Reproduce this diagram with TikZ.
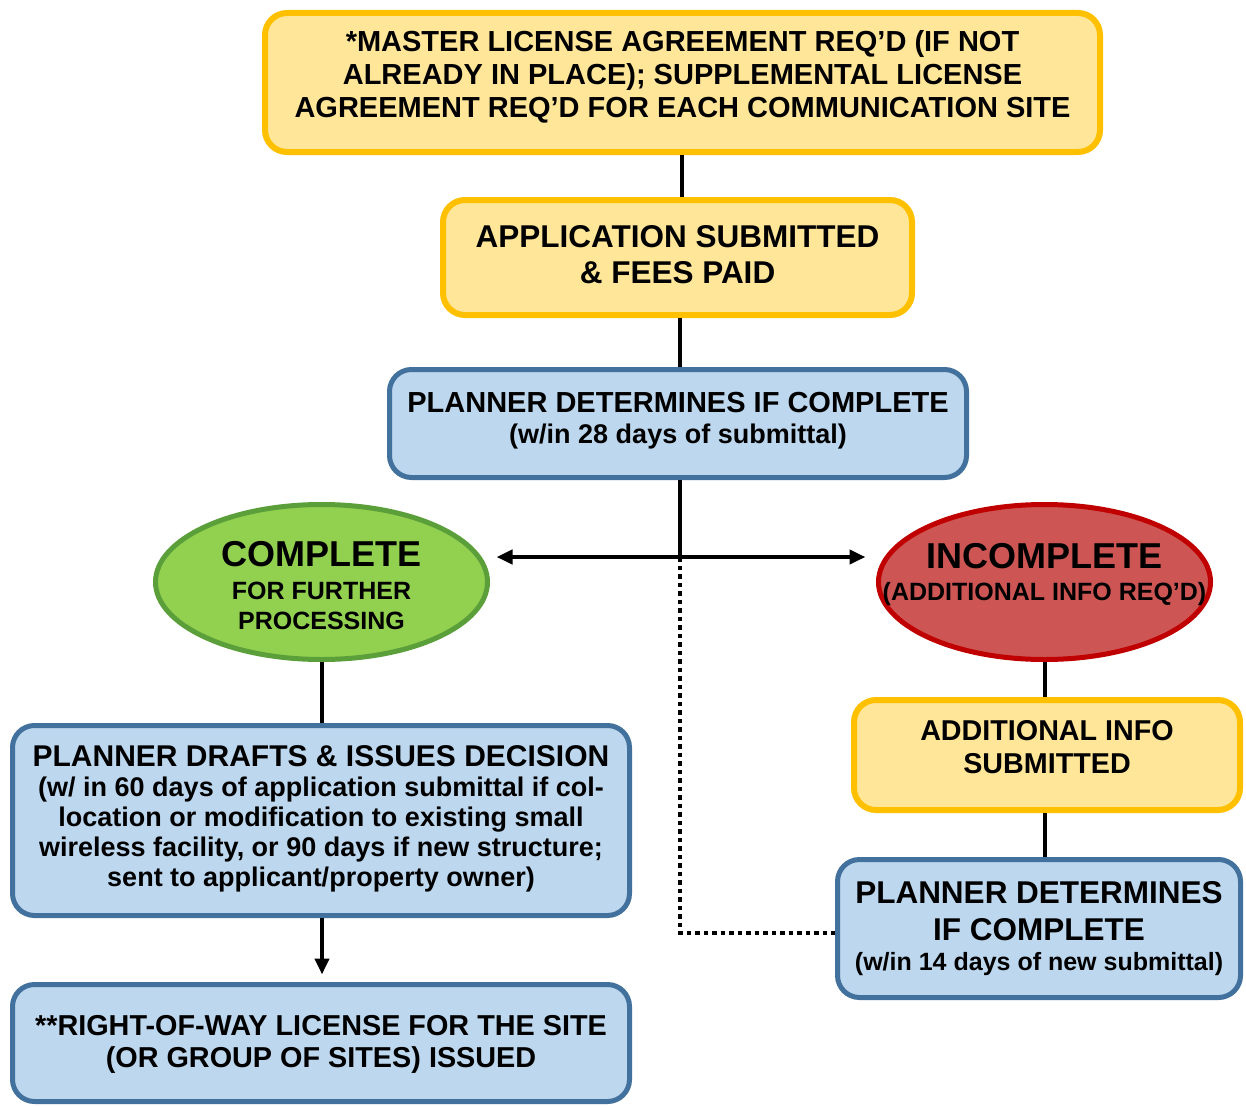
\documentclass[tikz,border=0pt]{standalone}
\usepackage{fontspec}
\setmainfont{Liberation Sans}
\usetikzlibrary{arrows.meta,shapes.geometric}
\definecolor{ylwfill}{HTML}{FFE699}
\definecolor{ylwline}{HTML}{FFC000}
\definecolor{bluefill}{HTML}{BDD7EE}
\definecolor{blueline}{HTML}{41719C}
\definecolor{grnfill}{HTML}{92D050}
\definecolor{grnline}{HTML}{5B9F3A}
\definecolor{redfill}{HTML}{CD5654}
\definecolor{redline}{HTML}{C00000}
\newcommand\fsz[2]{\fontsize{#1}{#2}\selectfont}
\newcommand\btxt[2]{\makebox[0pt]{\raisebox{#1}[0pt][0pt]{\begin{tabular}[t]{@{}c@{}}#2\end{tabular}}}}
\tikzset{
  ybox/.style={draw=ylwline, fill=ylwfill, line width=6pt, rounded corners=22pt, inner sep=0pt, font=\bfseries},
  bbox/.style={draw=blueline, fill=bluefill, line width=5pt, rounded corners=22pt, inner sep=0pt, font=\bfseries},
  gell/.style={ellipse, draw=grnline, fill=grnfill, line width=5pt, inner sep=0pt, font=\bfseries},
  rell/.style={ellipse, draw=redline, fill=redfill, line width=5pt, inner sep=0pt, font=\bfseries},
  conn/.style={line width=4pt, draw=black},
  arr/.style={conn, -{Triangle[length=16pt,width=14pt]}},
  dotline/.style={line width=4pt, draw=black, dash pattern=on 4.5pt off 4pt}
}
\begin{document}
\begin{tikzpicture}[x=1pt,y=-1pt]
\useasboundingbox (0,0) rectangle (1246,1105);
\node[ybox, minimum width=835pt, minimum height=139pt] (m1) at (682.5,82.5)
  {\fsz{29}{33}\btxt{30.5pt}{*MASTER LICENSE AGREEMENT REQ’D (IF NOT\\ALREADY IN PLACE); SUPPLEMENTAL LICENSE\\AGREEMENT REQ’D FOR EACH COMMUNICATION SITE}};
\node[ybox, minimum width=469pt, minimum height=115pt] (m2) at (677.5,257.5)
  {\fsz{31.5}{36}\btxt{10.5pt}{APPLICATION SUBMITTED\\\& FEES PAID}};
\node[bbox, minimum width=577pt, minimum height=108pt] (m3) at (678,423.5)
  {\fsz{29}{31}\btxt{11.5pt}{PLANNER DETERMINES IF COMPLETE\\\fsz{27}{31}(w/in 28 days of submittal)}};
\node[gell, minimum width=332pt, minimum height=155pt] (g) at (321.5,582)
  {\fsz{36}{33}\btxt{16pt}{COMPLETE\\\fsz{25}{30}FOR FURTHER\\[-3pt]\fsz{25}{30}PROCESSING}};
\node[rell, minimum width=332pt, minimum height=155pt] (r) at (1044.5,582)
  {\fsz{36}{32}\btxt{14pt}{INCOMPLETE\\\fsz{25}{30}(ADDITIONAL INFO REQ’D)}};
\node[bbox, minimum width=617pt, minimum height=190pt] (m4) at (321,820.5)
  {\fsz{30}{30}\btxt{54.5pt}{PLANNER DRAFTS \& ISSUES DECISION\\
   \fsz{27}{30}(w/ in 60 days of application submittal if col-\\
   \fsz{27}{30}location or modification to existing small\\
   \fsz{27}{30}wireless facility, or 90 days if new structure;\\
   \fsz{27}{30}sent to applicant/property owner)}};
\node[ybox, minimum width=386pt, minimum height=110pt] (m5) at (1047,755)
  {\fsz{28.7}{33}\btxt{15pt}{ADDITIONAL INFO\\SUBMITTED}};
\node[bbox, minimum width=403pt, minimum height=138pt] (m6) at (1039,928.5)
  {\fsz{31.5}{37}\btxt{25.5pt}{PLANNER DETERMINES\\IF COMPLETE\\[-7pt]\fsz{25}{30}(w/in 14 days of new submittal)}};
\node[bbox, minimum width=617pt, minimum height=117pt] (m7) at (321,1043)
  {\fsz{28.8}{32}\btxt{8pt}{**RIGHT-OF-WAY LICENSE FOR THE SITE\\(OR GROUP OF SITES) ISSUED}};
\coordinate (j) at (680,557);
\coordinate (d) at (680,933);
\draw[conn] (m1.south -| 682,0) -- (m2.north -| 682,0);
\draw[conn] (m2.south -| 680,0) -- (m3.north -| 680,0);
\draw[conn] (m3.south -| j) -- (j);
\draw[arr, shorten >=6.5pt] (j) -- (j -| g.east);
\draw[arr, shorten >=10.5pt] (j) -- (j -| r.west);
\draw[dotline] (j) -- (d) -- (d -| m6.west);
\draw[conn] (g.south -| 322,0) -- (m4.north -| 322,0);
\draw[conn] (r.south -| 1045,0) -- (m5.north -| 1045,0);
\draw[conn] (m5.south -| 1045,0) -- (m6.north -| 1045,0);
\draw[arr, shorten >=7.5pt] (m4.south -| 322,0) -- (m7.north -| 322,0);
\end{tikzpicture}
\end{document}
